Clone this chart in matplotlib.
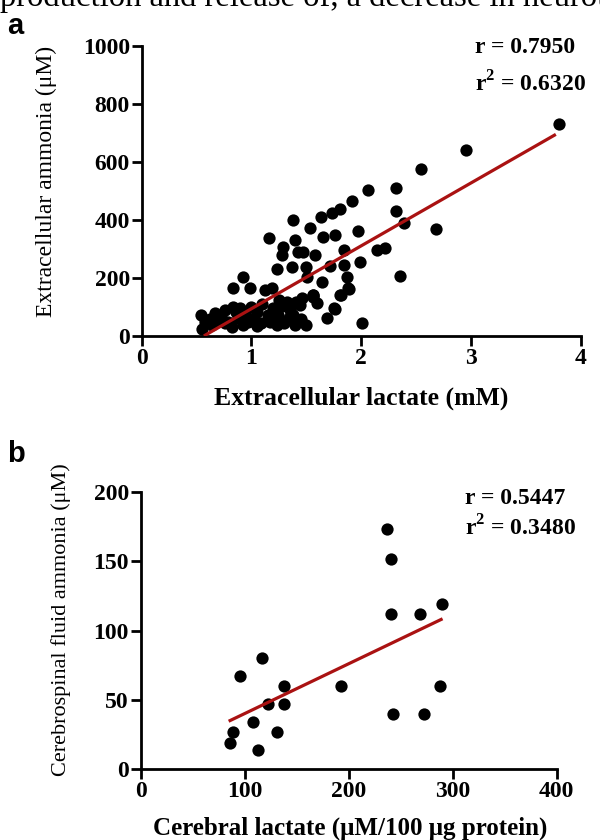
import numpy as np
import matplotlib
matplotlib.use('Agg')
import matplotlib.pyplot as plt

# panel a: extracellular lactate (mM) vs extracellular ammonia (uM)
lactate_a = [3.80, 2.95, 2.545, 2.32, 2.06, 1.92, 1.81, 1.73, 1.63, 1.38,
             1.535, 1.97, 2.32, 2.39, 2.68, 1.16, 1.40, 1.655, 1.76, 1.29,
             1.275, 1.47, 1.58, 1.84, 2.14, 2.22, 1.23, 1.37, 1.72, 1.99,
             1.51, 1.64, 1.87, 2.355, 0.925, 0.83, 0.99, 1.12, 1.19, 1.88,
             1.82, 1.56, 1.44, 1.32, 1.75, 1.69, 2.01, 1.50, 0.54, 0.55,
             0.67, 0.76, 0.835, 0.70, 0.79, 0.88, 0.97, 1.05, 1.15, 1.09,
             1.245, 1.23, 1.34, 1.40, 0.926, 0.76, 0.64, 1.38, 0.72, 0.62,
             0.86, 0.95, 1.00, 1.10, 1.20, 1.28, 1.02, 1.17, 1.30, 0.82,
             1.05, 0.58, 0.90, 1.35, 1.45, 1.25, 1.60, 1.41, 1.46, 1.565,
             1.81, 1.885, 1.76, 1.84, 1.50, 1.56, 1.42]
ammonia_a = [730, 641, 576, 509, 505, 465, 438, 424, 412, 401,
             374, 364, 430, 391, 369, 338, 332, 343, 349, 306,
             278, 289, 281, 297, 298, 302, 230, 239, 240, 256,
             205, 186, 205, 208, 205, 164, 167, 159, 164, 164,
             141, 141, 107, 118, 95, 61, 44, 38, 72, 24,
             78, 90, 101, 55, 49, 61, 49, 84, 72, 44,
             72, 38, 61, 38, 38, 44, 38, 72, 70, 60,
             82, 70, 100, 110, 95, 105, 60, 50, 45, 30,
             35, 50, 95, 90, 60, 125, 115, 119, 131, 142,
             142, 162, 92, 246, 239, 135, 290]
fit_a_x = [0.58, 3.76]
fit_a_y = [3, 693]

# panel b: cerebral lactate vs CSF ammonia
lactate_b = [237, 241, 241, 269, 290, 288, 273, 243, 193, 138,
             138, 122, 117, 96, 108, 131, 113, 89, 86]
ammonia_b = [173, 152, 112, 112, 119, 60, 40, 40, 60, 60,
             47, 47, 80, 67, 34, 27, 14, 27, 19]
fit_b_x = [86, 289]
fit_b_y = [35, 108]

serif = 'Liberation Serif'
line_red = '#aa1212'

fig = plt.figure(figsize=(6, 8.4), dpi=100)

# cropped line of body text at the very top
fig.text(0.0, 1 - 6 / 840, 'production and release of, a decrease in neurotransmitter',
         family=serif, fontsize=23.5, va='baseline', ha='left')

fig.text(0.012, 1 - 34 / 840, 'a', family='Liberation Sans', fontweight='bold',
         fontsize=21, va='baseline')
fig.text(0.012, 1 - 462 / 840, 'b', family='Liberation Sans', fontweight='bold',
         fontsize=21, va='baseline')


def style(ax):
    for s in ['top', 'right']:
        ax.spines[s].set_visible(False)
    for s in ['left', 'bottom']:
        ax.spines[s].set_linewidth(2.0)
    ax.tick_params(direction='out', length=7, width=2, pad=1.5)
    for lab in ax.get_xticklabels() + ax.get_yticklabels():
        lab.set_family(serif)
        lab.set_fontweight('bold')
        lab.set_fontsize(17)


ax1 = fig.add_axes([0.236, 0.6, 0.732, 0.345])
ax1.scatter(lactate_a, ammonia_a, s=78, color='black', zorder=3, linewidths=0)
ax1.plot(fit_a_x, fit_a_y, color=line_red, lw=2.3, zorder=4)
ax1.set_xlim(0, 4)
ax1.set_ylim(0, 1000)
ax1.set_xticks([0, 1, 2, 3, 4])
ax1.set_yticks([0, 200, 400, 600, 800, 1000])
style(ax1)
ax1.set_xlabel('Extracellular lactate (mM)', family=serif, fontweight='bold', fontsize=18.5)
ax1.set_ylabel('Extracellular ammonia (μM)', family=serif, fontsize=17)
ax1.xaxis.set_label_coords(0.5, -0.175)
ax1.yaxis.set_label_coords(-0.193, 0.535)
ax1.text(0.759, 0.995, 'r = 0.7950', transform=ax1.transAxes, family=serif,
         fontweight='bold', fontsize=17, va='center')
ax1.text(0.759, 0.87, 'r$^\\mathregular{2}$ = 0.6320', transform=ax1.transAxes, family=serif,
         fontweight='bold', fontsize=17, va='center')

ax2 = fig.add_axes([0.2345, 0.0845, 0.693, 0.3297])
ax2.scatter(lactate_b, ammonia_b, s=78, color='black', zorder=3, linewidths=0)
ax2.plot(fit_b_x, fit_b_y, color=line_red, lw=2.3, zorder=4)
ax2.set_xlim(0, 400)
ax2.set_ylim(0, 200)
ax2.set_xticks([0, 100, 200, 300, 400])
ax2.set_yticks([0, 50, 100, 150, 200])
style(ax2)
ax2.set_xlabel('Cerebral lactate (μM/100 μg protein)', family=serif, fontweight='bold', fontsize=18)
ax2.set_ylabel('Cerebrospinal fluid ammonia (μM)', family=serif, fontsize=16)
ax2.xaxis.set_label_coords(0.503, -0.172)
ax2.yaxis.set_label_coords(-0.168, 0.54)
ax2.text(0.78, 0.975, 'r = 0.5447', transform=ax2.transAxes, family=serif,
         fontweight='bold', fontsize=17, va='center')
ax2.text(0.78, 0.87, 'r$^\\mathregular{2}$ = 0.3480', transform=ax2.transAxes, family=serif,
         fontweight='bold', fontsize=17, va='center')

fig.savefig('out.png', dpi=100)
